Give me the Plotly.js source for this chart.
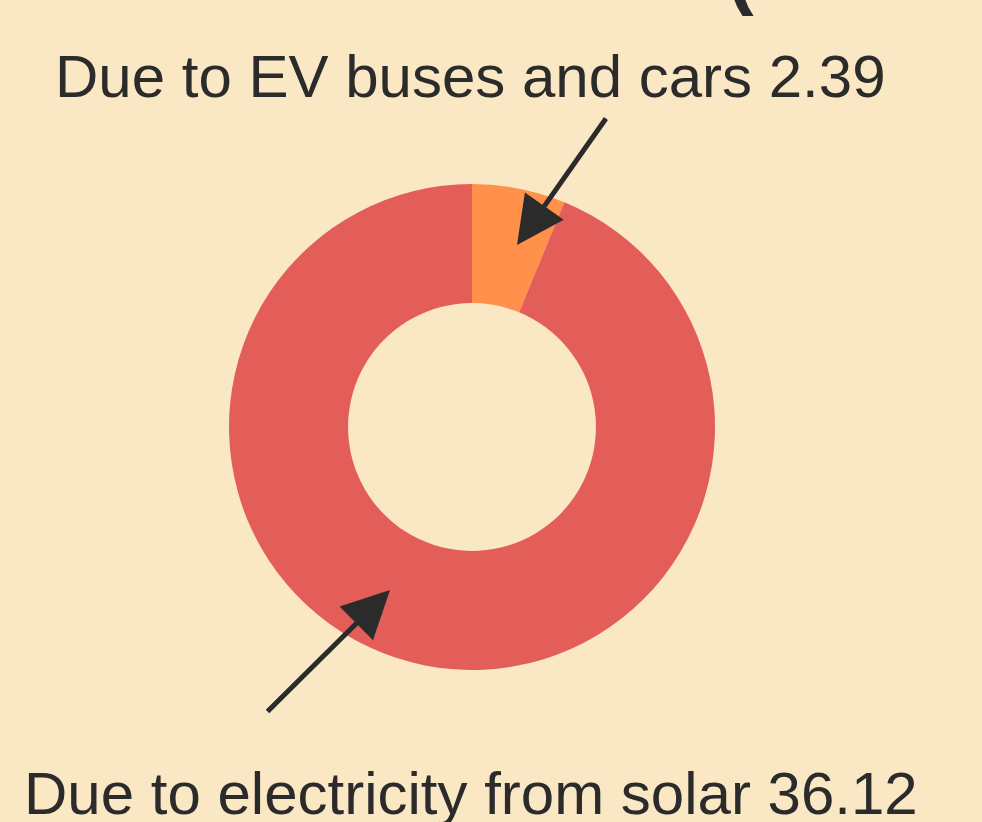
<!DOCTYPE html>
<html>
<head>
<meta charset="utf-8">
<script src="https://cdn.plot.ly/plotly-3.0.1.min.js"></script>
<style>html,body{margin:0;padding:0;background:#FAE8C5;}#chart{width:982px;height:822px;}</style>
</head>
<body>
<div id="chart"></div>
<script>
var labels = ["Due to EV buses and cars", "Due to electricity from solar"];
var values = [2.39, 36.12];
var colors = ["#FF914A", "#E45E59"];

var W = 982, H = 822;
var cx = 472, cy = 427, R = 243;

var data = [{
  type: "pie",
  labels: labels,
  values: values,
  hole: 0.51,
  sort: false,
  direction: "clockwise",
  rotation: 0,
  marker: {colors: colors, line: {width: 0}},
  textinfo: "none",
  hoverinfo: "label+value",
  showlegend: false,
  domain: {x: [(cx - R) / W, (cx + R) / W], y: [(H - cy - R) / H, (H - cy + R) / H]}
}];

var font = {family: "Liberation Sans, Arial, Helvetica, sans-serif", size: 60, color: "#2B2B2B"};

var annotations = [
  {xref: "paper", yref: "paper", x: 470.5 / W, y: 1 - 77 / H, text: labels[0] + " " + values[0],
   showarrow: false, xanchor: "center", yanchor: "middle", font: font},
  {xref: "paper", yref: "paper", x: 471 / W, y: 1 - 793 / H, text: labels[1] + " " + values[1],
   showarrow: false, xanchor: "center", yanchor: "middle", font: font},
  {xref: "paper", yref: "paper", x: 517 / W, y: 1 - 245 / H, text: "", showarrow: true,
   ax: 90, ay: -128, arrowhead: 2, arrowsize: 1.9, arrowwidth: 5, arrowcolor: "#2B2B2B"},
  {xref: "paper", yref: "paper", x: 390 / W, y: 1 - 590 / H, text: "", showarrow: true,
   ax: -124, ay: 123, arrowhead: 2, arrowsize: 1.9, arrowwidth: 5, arrowcolor: "#2B2B2B"},
  {xref: "paper", yref: "paper", x: 740 / W, y: 1 - 18 / H, text: "<b>(</b>", showarrow: false,
   xanchor: "center", yanchor: "bottom", font: {family: font.family, size: 80, color: "#2B2B2B"}}
];

var layout = {
  width: W, height: H,
  margin: {l: 0, r: 0, t: 0, b: 0},
  paper_bgcolor: "#FAE8C5",
  plot_bgcolor: "#FAE8C5",
  annotations: annotations
};

Plotly.newPlot("chart", data, layout, {displayModeBar: false});
</script>
</body>
</html>
